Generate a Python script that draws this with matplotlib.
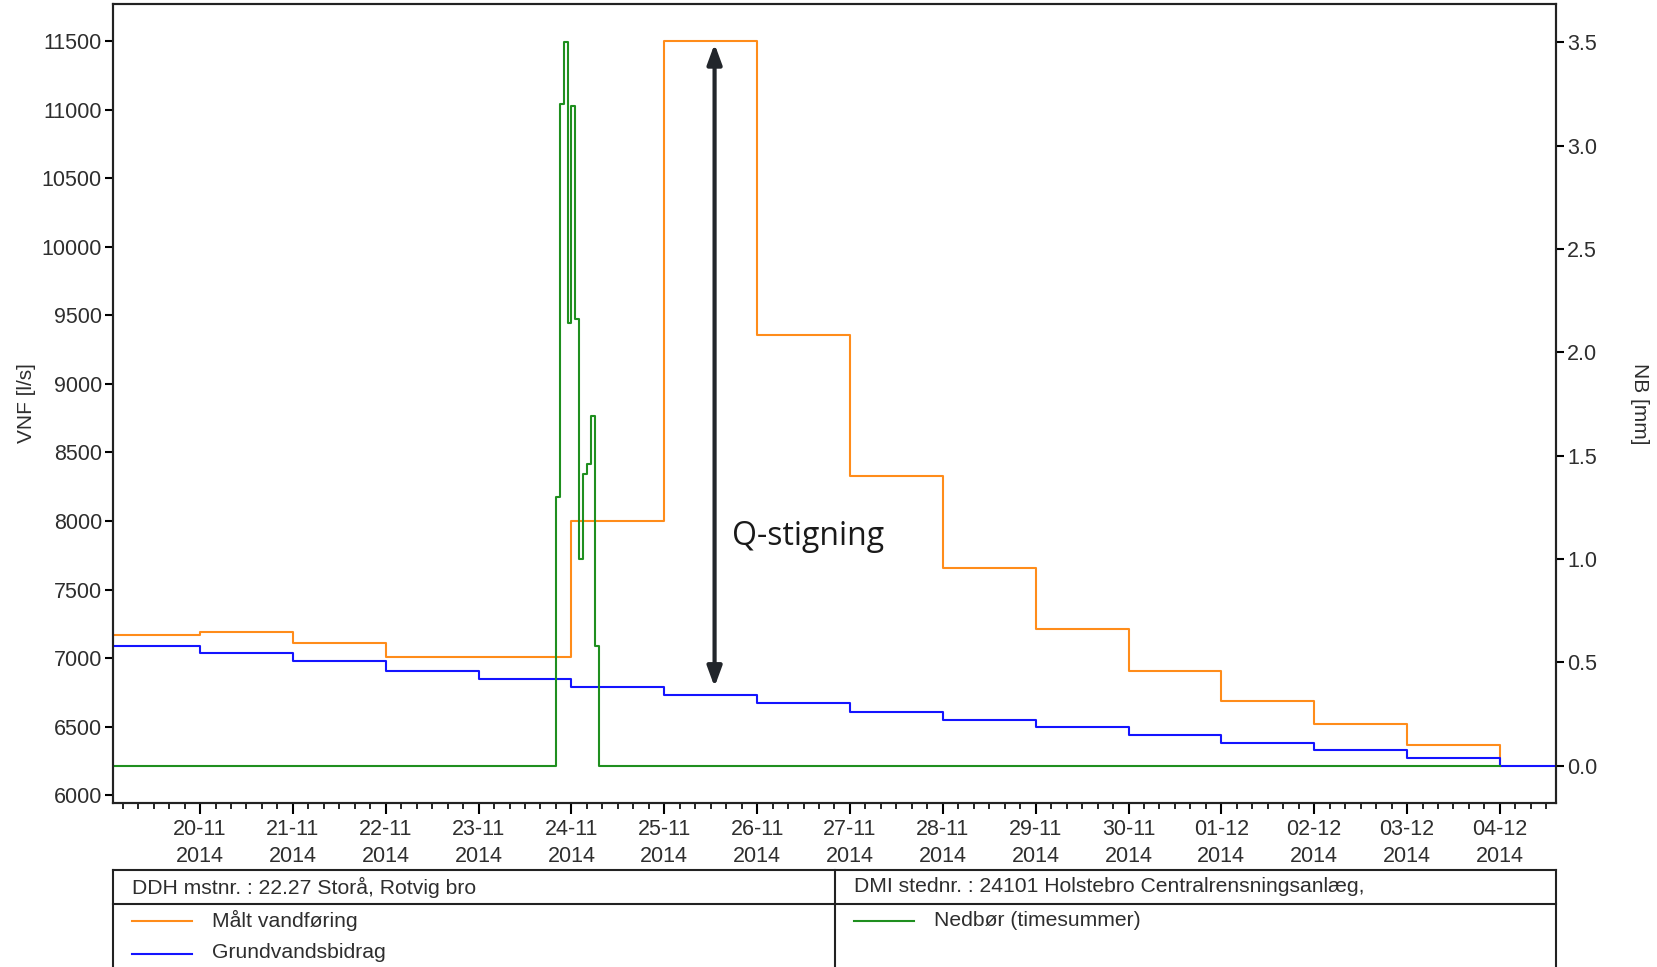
import matplotlib
matplotlib.use('Agg')
import matplotlib.pyplot as plt
import matplotlib.dates as mdates
from matplotlib.lines import Line2D
from matplotlib.transforms import blended_transform_factory
from datetime import datetime, timedelta

plt.rcParams['font.family'] = ['Liberation Sans', 'DejaVu Sans']

# daily values, first day 19-11-2014
start = datetime(2014, 11, 19)
maalt_vandforing = [7168, 7193, 7110, 7005, 7005, 8000, 11500, 9355, 8330,
                    7655, 7210, 6905, 6685, 6522, 6365]
grundvandsbidrag = [7091, 7035, 6977, 6908, 6845, 6787, 6729, 6670, 6609,
                    6551, 6497, 6437, 6379, 6332, 6274, 6215]
end_level = 6215

# hourly rain (mm), first hour 23-11-2014 20:00
rain_start = datetime(2014, 11, 23, 20)
nedbor = [1.3, 3.2, 3.5, 2.14, 3.19, 2.16, 1.0, 1.41, 1.46, 1.69, 0.58]
rain_end = datetime(2014, 12, 4)

# annotation
q_x = datetime(2014, 11, 25, 13)
q_top, q_bottom = 11480, 6790
q_text = 'Q-stigning'

W, H = 1658, 967
fig = plt.figure(figsize=(W / 100, H / 100), dpi=100)
ax = fig.add_axes([113 / W, 1 - 803 / H, (1556 - 113) / W, (803 - 4) / H])
ax2 = ax.twinx()

c_or, c_bl, c_gr = '#ff8c1a', '#1414ff', '#1f8f1f'

# orange
xo = [start + timedelta(days=i) for i in range(len(maalt_vandforing) + 1)]
yo = maalt_vandforing + [end_level]
ax.plot(xo, yo, drawstyle='steps-post', color=c_or, lw=1.5, zorder=2)

# blue
xb = [start + timedelta(days=i) for i in range(len(grundvandsbidrag) + 1)]
yb = grundvandsbidrag + [grundvandsbidrag[-1]]
ax.plot(xb, yb, drawstyle='steps-post', color=c_bl, lw=1.5, zorder=3)

# green on the right-hand scale, drawn in ax so the layering is controlled
xg = [start] + [rain_start + timedelta(hours=i) for i in range(len(nedbor) + 1)] + [rain_end]
yg = [0] + nedbor + [0, 0]
tr = blended_transform_factory(ax.transData, ax2.transData)
ax.plot(xg, yg, drawstyle='steps-post', color=c_gr, lw=1.5, zorder=4, transform=tr)

ax.set_xlim(datetime(2014, 11, 19, 1, 30), datetime(2014, 12, 4, 14, 30))
ax.set_ylim(5943, 11771)
ax2.set_ylim(-0.181, 3.685)

ax.set_yticks(range(6000, 11501, 500))
ax2.set_yticks([0, 0.5, 1, 1.5, 2, 2.5, 3, 3.5])
ax2.yaxis.set_major_formatter(plt.FormatStrFormatter('%.1f'))

ax.xaxis.set_major_locator(mdates.DayLocator())
ax.xaxis.set_minor_locator(mdates.HourLocator(byhour=range(0, 24, 4)))
ax.xaxis.set_major_formatter(mdates.DateFormatter('%d-%m\n%Y'))

tc = '#2e2e2e'
ax.tick_params(axis='y', length=6, width=1.5, labelsize=15.5, labelcolor=tc, pad=2)
ax2.tick_params(axis='y', length=6, width=1.5, labelsize=15.5, labelcolor=tc, pad=2)
ax.tick_params(axis='x', which='major', length=8, width=1.5, labelsize=15.5, labelcolor=tc, pad=3.5)
ax.tick_params(axis='x', which='minor', length=4, width=1.2)
for lab in ax.get_xticklabels():
    lab.set_linespacing(1.38)
for a in (ax, ax2):
    for s in a.spines.values():
        s.set_linewidth(1.5)
        s.set_color('#222222')

ax.set_ylabel('VNF [l/s]', fontsize=15, color=tc, va='center')
ax.yaxis.set_label_coords(-0.060, 0.5)
ax2.set_ylabel('NB [mm]', fontsize=15, color=tc, rotation=-90, va='center')
ax2.yaxis.set_label_coords(1.058, 0.5)

ax.annotate('', xy=(q_x, q_top), xytext=(q_x, q_bottom),
            arrowprops=dict(arrowstyle='<|-|>,head_length=0.6,head_width=0.22',
                            lw=3, color='#22262b', shrinkA=0, shrinkB=0,
                            mutation_scale=20), zorder=5)
ax.text(datetime(2014, 11, 25, 17, 30), 7890, q_text, fontsize=23,
        family=['Open Sans', 'DejaVu Sans'], color='#1a1a1a', va='center', ha='left')

# legend table underneath
def fx(px):
    return px / W

def fy(py):
    return 1 - py / H

lk = dict(color='#222222', lw=1.5)
fig.add_artist(Line2D([fx(113), fx(1556)], [fy(870), fy(870)], **lk))
fig.add_artist(Line2D([fx(113), fx(1556)], [fy(904), fy(904)], **lk))
for x in (113, 835, 1556):
    fig.add_artist(Line2D([fx(x), fx(x)], [fy(870), fy(H + 5)], **lk))

txt = dict(fontsize=15.2, color=tc, va='center', ha='left')
fig.text(fx(132), fy(887), 'DDH mstnr. : 22.27 Storå, Rotvig bro', **txt)
fig.text(fx(854), fy(887), 'DMI stednr. : 24101 Holstebro Centralrensningsanlæg,', **txt)

legend_rows = [(132, 921, c_or, 'Målt vandføring'),
               (132, 954, c_bl, 'Grundvandsbidrag'),
               (854, 921, c_gr, 'Nedbør (timesummer)')]
for x, y, c, lab in legend_rows:
    fig.add_artist(Line2D([fx(x), fx(x + 60)], [fy(y), fy(y)], color=c, lw=1.5))
    fig.text(fx(x + 80), fy(y - 1), lab, **txt)

plt.savefig('out.png', dpi=100)
